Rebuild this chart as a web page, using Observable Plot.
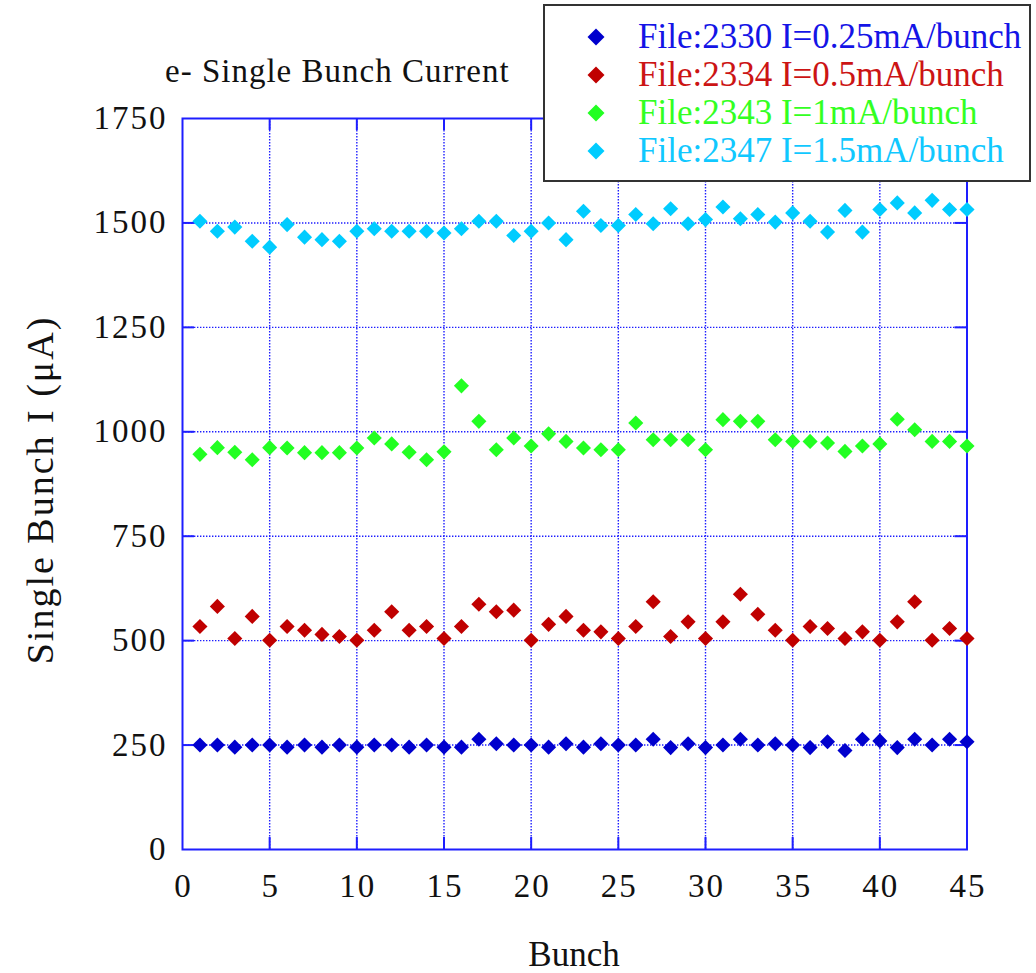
<!DOCTYPE html>
<html><head><meta charset="utf-8">
<script src="https://cdn.jsdelivr.net/npm/d3@7"></script>
<script src="https://cdn.jsdelivr.net/npm/@observablehq/plot@0.6"></script>
<style>
body{margin:0;background:#fff;}
#wrap{position:relative;width:1036px;height:973px;font-family:"Liberation Serif","Times New Roman",serif;color:#111;}
#wrap > svg{position:absolute;left:0;top:0;}
#wrap > svg text{letter-spacing:2px;}
.title{position:absolute;left:165px;top:53px;font-size:33px;letter-spacing:1px;white-space:nowrap;}
.ylab{position:absolute;left:40px;top:490px;font-size:38px;letter-spacing:2px;white-space:nowrap;transform:translate(-50%,-50%) rotate(-90deg);}
.xlab{position:absolute;left:574px;top:955px;font-size:35px;white-space:nowrap;transform:translate(-50%,-50%);}
.legend{position:absolute;left:543px;top:4px;width:484px;height:174px;border:2px solid #333;background:#fff;}
.legend .row{position:absolute;left:0;width:480px;height:38px;line-height:38px;font-size:35px;white-space:nowrap;}
.legend .row svg.mk{position:absolute;left:42px;top:10px;}
.legend .row span{position:absolute;left:93px;top:0;}
</style></head><body><div id="wrap"></div>
<script>
const bunches = [1,2,3,4,5,6,7,8,9,10,11,12,13,14,15,16,17,18,19,20,21,22,23,24,25,26,27,28,29,30,31,32,33,34,35,36,37,38,39,40,41,42,43,44,45];
const file2330 = [250,250,245,250,250,245,250,245,250,245, 250,250,245,250,245,245,264,253,250,250, 245,253,245,253,250,250,264,244,253,244, 250,264,250,253,250,244,258,237,264,260, 244,264,250,264,258];
const file2334 = [534,582,505,558,501,534,525,515,510,501, 525,569,525,534,505,534,587,569,573,501, 539,558,525,521,505,534,593,510,545,505, 545,611,563,525,501,534,529,505,521,501, 545,593,501,529,505];
const file2343 = [946,962,951,933,962,961,950,950,950,961, 985,971,951,933,952,1110,1025,957,985,966, 995,977,961,957,957,1021,981,981,981,957, 1029,1025,1025,981,977,977,973,953,966,971, 1030,1005,977,977,966];
const file2347 = [1504,1480,1490,1456,1442,1496,1466,1460,1456,1480, 1486,1480,1480,1480,1476,1486,1504,1504,1470,1480, 1500,1460,1528,1494,1494,1520,1498,1534,1498,1508, 1538,1510,1520,1502,1524,1504,1478,1530,1478,1532, 1548,1524,1554,1532,1532];
const seriesNames = ["File:2330 I=0.25mA/bunch","File:2334 I=0.5mA/bunch","File:2343 I=1mA/bunch","File:2347 I=1.5mA/bunch"];
const seriesValues = [file2330, file2334, file2343, file2347];
const markerColors = ["#0000cd","#c00000","#22ff22","#00ccff"];
const textColors = ["#1414e6","#cc1414","#33ff22","#10c8ff"];
const xTicks = [0,5,10,15,20,25,30,35,40,45];
const yTicks = [0,250,500,750,1000,1250,1500,1750];
const titleText = "e- Single Bunch Current";
const xLabel = "Bunch";
const yLabel = "Single Bunch I (\u03bcA)";

const W = 1036, H = 973, mL = 182, mR = 69.5, mT = 118, mB = 124;
const fW = W - mL - mR, fH = H - mT - mB, tk = 12;
const blue = "#1e1eff";
const serif = "'Liberation Serif', 'Times New Roman', serif";

const data = [];
seriesValues.forEach((vals, s) => vals.forEach((v, i) => data.push({bunch: bunches[i], value: v, s})));

const xInner = xTicks.slice(1, -1), yInner = yTicks.slice(1, -1);

const plot = Plot.plot({
  width: W, height: H,
  marginLeft: mL, marginRight: mR, marginTop: mT, marginBottom: mB,
  style: {fontFamily: serif, fontSize: "33px", color: "#111", background: "transparent"},
  x: {domain: [0, 45], axis: null},
  y: {domain: [0, 1750], axis: null},
  marks: [
    Plot.gridX(xInner, {stroke: blue, strokeOpacity: 1, strokeWidth: 1.4, strokeDasharray: "1.4,1.6"}),
    Plot.gridY(yInner, {stroke: blue, strokeOpacity: 1, strokeWidth: 1.4, strokeDasharray: "1.4,1.6"}),
    Plot.tickY(yInner, {y: d => d, stroke: blue, strokeWidth: 2, insetRight: fW - tk}),
    Plot.tickY(yInner, {y: d => d, stroke: blue, strokeWidth: 2, insetLeft: fW - tk}),
    Plot.tickX(xInner, {x: d => d, stroke: blue, strokeWidth: 2, insetTop: fH - tk}),
    Plot.tickX(xInner, {x: d => d, stroke: blue, strokeWidth: 2, insetBottom: fH - tk}),
    Plot.frame({stroke: blue, strokeWidth: 2}),
    Plot.axisX({ticks: xTicks, tickSize: 0, tickPadding: 24, label: null, fontSize: 33, fontFamily: serif, dx: 1, tickFormat: d => String(d)}),
    Plot.axisY({ticks: yTicks, tickSize: 0, tickPadding: 15, label: null, fontSize: 33, fontFamily: serif, tickFormat: d => String(d)}),
    Plot.dot(data, {x: "bunch", y: "value", symbol: "diamond2", r: 6.8, fill: d => markerColors[d.s], stroke: "none"})
  ]
});

const wrap = document.getElementById("wrap");
wrap.appendChild(plot);

const t = document.createElement("div"); t.className = "title"; t.textContent = titleText; wrap.appendChild(t);
const yl = document.createElement("div"); yl.className = "ylab"; yl.textContent = yLabel; wrap.appendChild(yl);
const xl = document.createElement("div"); xl.className = "xlab"; xl.textContent = xLabel; wrap.appendChild(xl);

const lg = document.createElement("div"); lg.className = "legend";
seriesNames.forEach((name, i) => {
  const row = document.createElement("div"); row.className = "row"; row.style.top = (12 + i * 38) + "px";
  row.innerHTML = `<svg class="mk" width="18" height="18" viewBox="-9 -9 18 18"><path d="M0,-8.5L8.5,0L0,8.5L-8.5,0Z" fill="${markerColors[i]}"/></svg>`;
  const sp = document.createElement("span"); sp.textContent = name; sp.style.color = textColors[i];
  row.appendChild(sp); lg.appendChild(row);
});
wrap.appendChild(lg);
</script>
</body></html>
